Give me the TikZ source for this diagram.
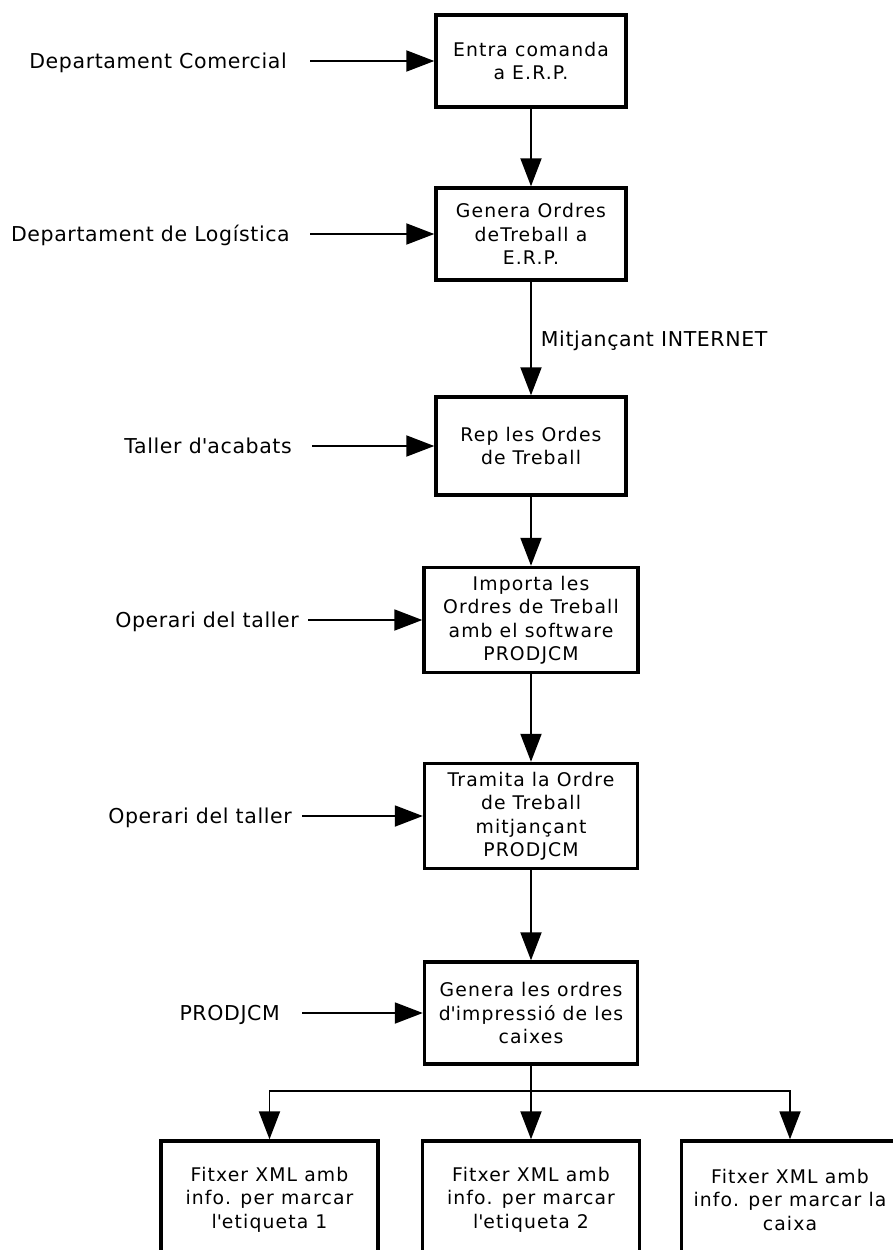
\documentclass[tikz,border=0pt]{standalone}
\usepackage{fontspec}
\usetikzlibrary{arrows.meta}
\newfontfamily\boxfont[LetterSpace=6]{DejaVu Sans}
\newfontfamily\lblfont[LetterSpace=3]{DejaVu Sans}
\begin{document}
\begin{tikzpicture}[x=1pt,y=-1pt,
  proc/.style={draw, line width=3.4pt, align=center, inner sep=0pt,
    font=\boxfont\fontsize{18.8}{23.5}\selectfont},
  lbl/.style={font=\lblfont\fontsize{20.5}{24}\selectfont, inner ysep=0pt,
    text height=15pt, text depth=0pt, anchor=east},
  arr/.style={line width=1.9pt, -{Triangle[length=28pt,width=21pt]}},
  link/.style={line width=1.9pt}]
\path[use as bounding box, clip] (0,0) rectangle (893,1250);

% process boxes
\node[proc, minimum width=190pt, minimum height=92pt] (A) at (531,61)
  {Entra comanda\\a E.R.P.};
\node[proc, minimum width=190pt, minimum height=92pt] (B) at (531,234)
  {Genera Ordres\\deTreball a\\E.R.P.};
\node[proc, minimum width=190pt, minimum height=98pt] (C) at (531,446)
  {Rep les Ordes\\de Treball};
\node[proc, minimum width=214pt, minimum height=105pt] (D) at (531,620)
  {Importa les\\Ordres de Treball\\amb el software\\PRODJCM};
\node[proc, minimum width=213pt, minimum height=105pt] (E) at (531,816)
  {Tramita la Ordre\\de Treball\\mitjançant\\PRODJCM};
\node[proc, minimum width=213pt, minimum height=102pt] (F) at (531,1013)
  {Genera les ordres\\d\textquotesingle impressió de les\\caixes};

% output files
\node[proc, minimum width=217pt, minimum height=117pt] (G1) at (269.5,1199.5)
  {Fitxer XML amb\\info. per marcar\\l\textquotesingle etiqueta 1};
\node[proc, minimum width=217pt, minimum height=117pt] (G2) at (531,1199.5)
  {Fitxer XML amb\\info. per marcar\\l\textquotesingle etiqueta 2};
\node[proc, minimum width=217pt, minimum height=117pt] (G3) at (790,1199.5)
  {Fitxer XML amb\\info. per marcar la\\caixa};

% actors on the left
\node[lbl, inner xsep=23pt] (L1) at (310,61) {Departament Comercial};
\node[lbl, inner xsep=20pt] (L2) at (310,234) {Departament de Logística};
\node[lbl, inner xsep=20pt] (L3) at (312,446) {Taller d\textquotesingle acabats};
\node[lbl, inner xsep=9pt] (L4) at (308,620) {Operari del taller};
\node[lbl, inner xsep=10pt] (L5) at (302,816) {Operari del taller};
\node[lbl, inner xsep=22pt] (L6) at (302,1013) {PRODJCM};

\draw[arr] (L1.east) -- (A.west);
\draw[arr] (L2.east) -- (B.west);
\draw[arr] (L3.east) -- (C.west);
\draw[arr] (L4.east) -- (D.west);
\draw[arr] (L5.east) -- (E.west);
\draw[arr] (L6.east) -- (F.west);

% main flow
\draw[arr] (A) -- (B);
\draw[arr] (B) -- node[lbl, anchor=west, inner xsep=9pt] (net) {Mitjançant INTERNET} (C);
\draw[arr] (C) -- (D);
\draw[arr] (D) -- (E);
\draw[arr] (E) -- (F);

% branching to the three files
\coordinate (yb) at (0,1091);
\coordinate (br) at (F.south |- yb);
\draw[link] (F.south) -- (br);
\draw[arr] (br) -| (G1.north);
\draw[arr] (br) -- (G2.north);
\draw[arr] (br) -| (G3.north);
\end{tikzpicture}
\end{document}
